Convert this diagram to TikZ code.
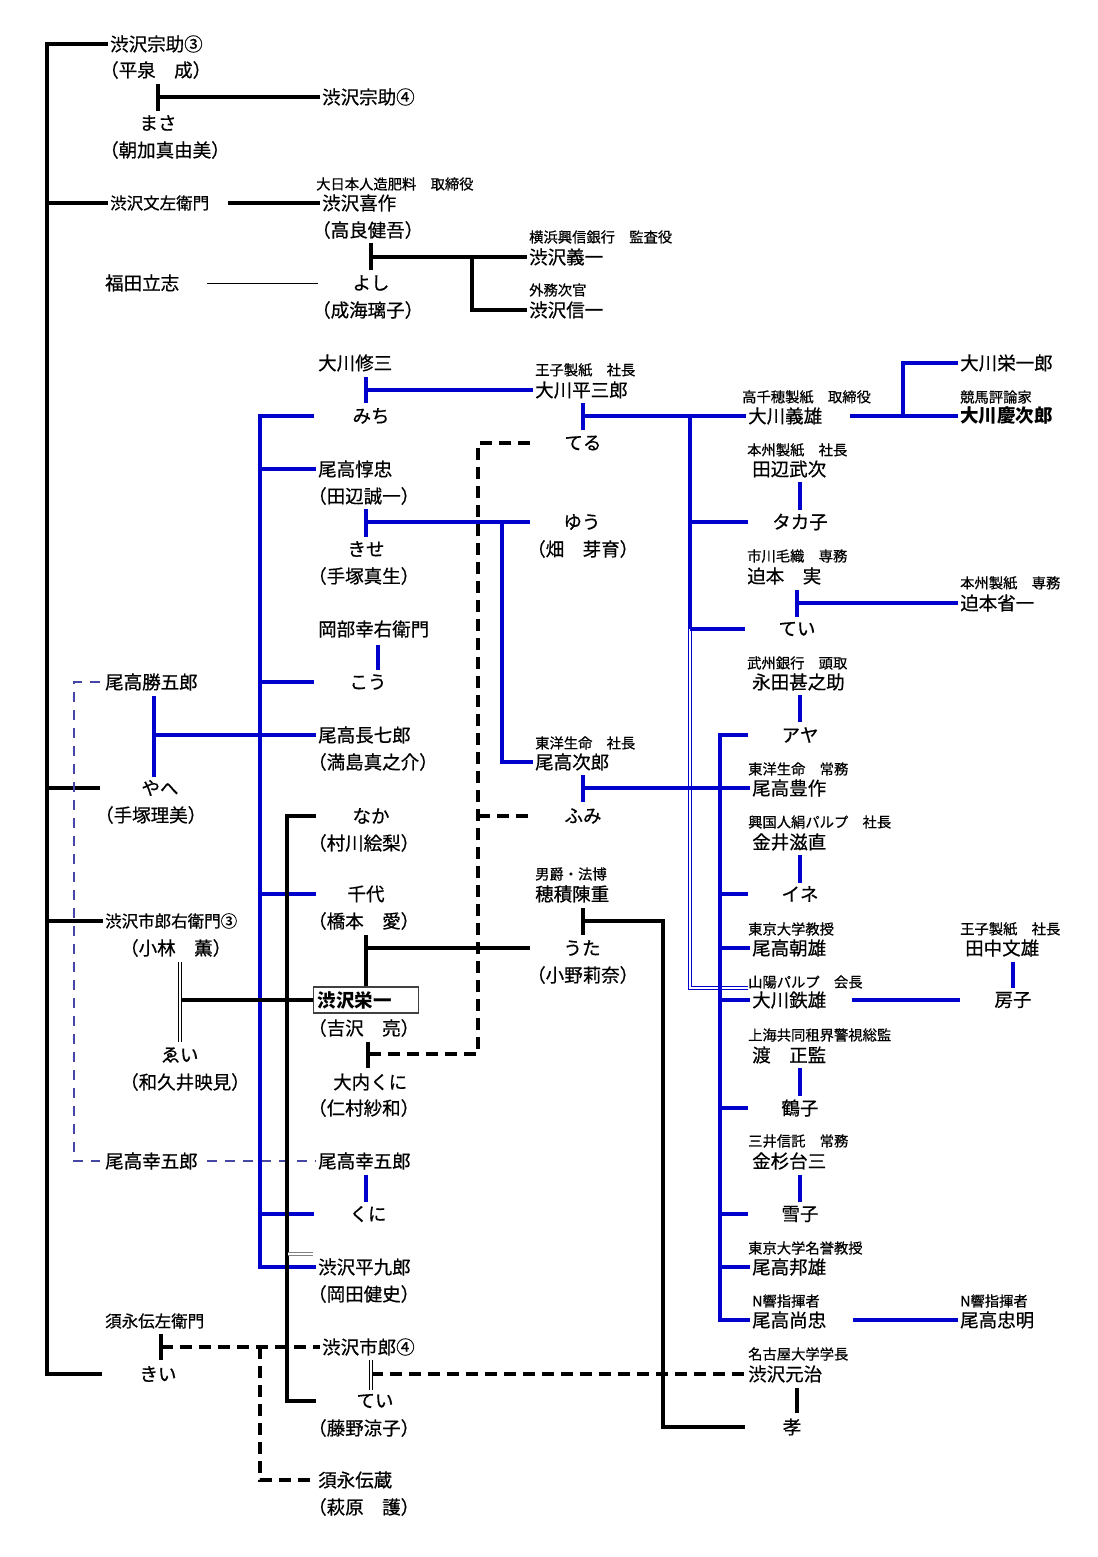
\documentclass[tikz,border=0pt]{standalone}
\usepackage{fontspec}
\setmainfont{Noto Sans CJK JP}[UprightFeatures={FakeBold=0.6}]
\definecolor{lb}{RGB}{0,0,205}
\definecolor{navyd}{RGB}{70,70,165}
\tikzset{
 nm/.style={font=\fontsize{18.5}{20}\selectfont, inner xsep=2pt, inner ysep=0pt},
 nw/.style={nm, anchor=west},
 ms/.style={font=\fontsize{16.5}{18}\selectfont, inner xsep=2pt, inner ysep=0pt, anchor=west},
 tt/.style={font=\fontsize{14.3}{16}\selectfont, inner xsep=2pt, inner ysep=0pt, anchor=west},
 blk/.style={line width=4pt, black},
 blu/.style={line width=4pt, lb},
 bdsh/.style={line width=4pt, black, dash pattern=on 12pt off 7pt},
 thn/.style={line width=1pt, black},
 bldsh/.style={line width=1.2pt, navyd, dash pattern=on 10pt off 8pt},
 dblk/.style={draw=black, double=white, line width=1pt, double distance=2.6pt},
 dgry/.style={draw=gray, double=white, line width=1pt, double distance=2.4pt},
 dblu/.style={draw=lb, double=white, line width=0.9pt, double distance=2.4pt},
}
\begin{document}
\begin{tikzpicture}[x=1pt,y=-1pt]
\fill[white] (0,0) rectangle (1097,1557);
\useasboundingbox (0,0) rectangle (1097,1557);

% ---------- nodes ----------
\node[nw] (soj3) at (108,44) {渋沢宗助③};
\node[nw] (hira) at (98,70) {（平泉　成）};
\node[nm] (masa) at (158,123) {まさ};
\node[nw] (asaka) at (98,150) {（朝加真由美）};
\node[nw] (soj4) at (320,97) {渋沢宗助④};
\node[ms] (bunz) at (108,203) {渋沢文左衛門};
\node[tt] (dainihon) at (314,184) {大日本人造肥料　取締役};
\node[nw] (kisaku) at (320,203) {渋沢喜作};
\node[nw] (takara) at (310,230) {（高良健吾）};
\node[nw] (fukuda) at (103,283) {福田立志};
\node[nm] (yoshi) at (371,283) {よし};
\node[nw] (narumi) at (310,310) {（成海璃子）};
\node[tt] (yokohama) at (527,237) {横浜興信銀行　監査役};
\node[nw] (giichi) at (527,257) {渋沢義一};
\node[tt] (gaimu) at (527,290) {外務次官};
\node[nw] (shinichi) at (527,310) {渋沢信一};

\node[nw] (shuzo) at (316,363) {大川修三};
\node[nm] (michi) at (371,416) {みち};
\node[tt] (oji1) at (533,370) {王子製紙　社長};
\node[nw] (heizaburo) at (533,390) {大川平三郎};
\node[nm] (teru) at (583,443) {てる};
\node[tt] (takachiho) at (740,397) {高千穂製紙　取締役};
\node[nw] (yoshio) at (746,416) {大川義雄};
\node[nw] (eiichiro) at (958,363) {大川栄一郎};
\node[tt] (keiba) at (958,397) {競馬評論家};
\node[nw] (keijiro) at (958,416) {\bfseries 大川慶次郎};
\node[nw] (junchu) at (316,469) {尾高惇忠};
\node[nw] (tanabe) at (306,496) {（田辺誠一）};
\node[nm] (kise) at (366,549) {きせ};
\node[nw] (tezuka) at (306,576) {（手塚真生）};
\node[nm] (yuu) at (582,522) {ゆう};
\node[nw] (hata) at (525,549) {（畑　芽育）};
\node[nw] (okabe) at (316,629) {岡部幸右衛門};
\node[nm] (kou) at (368,682) {こう};
\node[tt] (honshu1) at (745,450) {本州製紙　社長};
\node[nw] (takeji) at (750,469) {田辺武次};
\node[nm] (takako) at (800,522) {タカ子};
\node[tt] (ichikawa) at (745,556) {市川毛織　専務};
\node[nw] (minoru) at (745,576) {迫本　実};
\node[nm] (tei1) at (797,629) {てい};
\node[tt] (honshu2) at (958,583) {本州製紙　専務};
\node[nw] (shoichi) at (958,603) {迫本省一};
\node[tt] (bushu) at (745,663) {武州銀行　頭取};
\node[nw] (jinnosuke) at (750,682) {永田甚之助};
\node[nm] (aya) at (800,735) {アヤ};
\node[nw] (katsugoro) at (103,682) {尾高勝五郎};
\node[nm] (yae) at (160,788) {やへ};
\node[nw] (tezuka2) at (93,815) {（手塚理美）};
\node[nw] (chohichiro) at (316,735) {尾高長七郎};
\node[nw] (mitsushima) at (306,762) {（満島真之介）};
\node[tt] (toyo1) at (533,743) {東洋生命　社長};
\node[nw] (jiro) at (533,762) {尾高次郎};
\node[nm] (fumi) at (583,816) {ふみ};
\node[tt] (toyo2) at (746,769) {東洋生命　常務};
\node[nw] (hosaku) at (750,788) {尾高豊作};
\node[tt] (kokoku) at (746,822) {興国人絹パルプ　社長};
\node[nw] (shigenao) at (750,842) {金井滋直};
\node[nm] (ine) at (800,894) {イネ};
\node[nm] (naka) at (371,816) {なか};
\node[nw] (murakawa) at (306,843) {（村川絵梨）};
\node[nm] (chiyo) at (366,894) {千代};
\node[nw] (hashimoto) at (306,921) {（橋本　愛）};
\node[tt] (danshaku) at (533,874) {男爵・法博};
\node[nw] (hozumi) at (533,894) {穂積陳重};
\node[nm] (uta) at (582,948) {うた};
\node[nw] (ono) at (525,975) {（小野莉奈）};
\node[ms] (ichiroemon) at (103,921) {渋沢市郎右衛門③};
\node[nw] (kobayashi) at (118,948) {（小林　薫）};
\node[nw] (yoshizawa) at (306,1028) {（吉沢　亮）};
\node[nm] (ei) at (180,1055) {ゑい};
\node[nw] (wakui) at (118,1082) {（和久井映見）};
\node[nw] (ouchi) at (331,1082) {大内くに};
\node[nw] (nimura) at (306,1108) {（仁村紗和）};
\node[tt] (todai) at (746,929) {東京大学教授};
\node[nw] (tomoo) at (750,948) {尾高朝雄};
\node[tt] (oji2) at (958,929) {王子製紙　社長};
\node[nw] (fumio) at (963,948) {田中文雄};
\node[nm] (fusako) at (1013,1000) {房子};
\node[tt] (sanyo) at (746,982) {山陽パルプ　会長};
\node[nw] (tetsuo) at (750,1000) {大川鉄雄};
\node[tt] (shanghai) at (746,1035) {上海共同租界警視総監};
\node[nw] (masami) at (750,1055) {渡　正監};
\node[nm] (tsuruko) at (800,1108) {鶴子};
\node[tt] (mitsui) at (746,1141) {三井信託　常務};
\node[nw] (taizo) at (750,1161) {金杉台三};
\node[nm] (yukiko) at (800,1214) {雪子};
\node[tt] (todai2) at (746,1248) {東京大学名誉教授};
\node[nw] (kunio) at (750,1267) {尾高邦雄};
\node[tt] (nkyo1) at (750,1301) {N響指揮者};
\node[nw] (hisatada) at (750,1320) {尾高尚忠};
\node[tt] (nkyo2) at (958,1301) {N響指揮者};
\node[nw] (tadaaki) at (958,1320) {尾高忠明};
\node[nw] (kogoroL) at (103,1161) {尾高幸五郎};
\node[nw] (kogoroR) at (316,1161) {尾高幸五郎};
\node[nm] (kuni) at (368,1214) {くに};
\node[nw] (heikuro) at (316,1267) {渋沢平九郎};
\node[nw] (okada) at (306,1294) {（岡田健史）};
\node[ms] (sunaga) at (103,1321) {須永伝左衛門};
\node[nm] (kii) at (158,1374) {きい};
\node[nw] (ichiro4) at (320,1347) {渋沢市郎④};
\node[nm] (tei2) at (375,1401) {てい};
\node[nw] (fujino) at (306,1428) {（藤野涼子）};
\node[nw] (denzo) at (316,1480) {須永伝蔵};
\node[nw] (hagiwara) at (306,1507) {（萩原　護）};
\node[tt] (nagoya) at (746,1354) {名古屋大学学長};
\node[nw] (motoharu) at (746,1374) {渋沢元治};
\node[nm] (taka) at (792,1427) {孝};
\node[draw=darkgray, line width=1.2pt, fill=white, anchor=west, minimum height=26pt,
      inner xsep=4pt, inner ysep=0pt, text width=97pt, align=left,
      font=\fontsize{18.5}{20}\selectfont\bfseries] (eiichi) at (313,1000) {渋沢栄一};

% ---------- coordinates ----------
\coordinate (T0) at (47,44);
\coordinate (T1) at (47,1374);
\coordinate (T1e) at (102,1374);
\coordinate (Tyae) at (100,788);
\coordinate (M1) at (158,84); \coordinate (M2) at (158,111); \coordinate (MJ) at (158,97);
\coordinate (BZ) at (228,203);
\coordinate (F1) at (207,283); \coordinate (F2) at (318,283);
\coordinate (Y1) at (371,243); \coordinate (Y2) at (371,270); \coordinate (YJ) at (371,257); \coordinate (YB) at (472,257);
\coordinate (S1) at (366,377); \coordinate (S2) at (366,403); \coordinate (SJ) at (366,390);
\coordinate (H1) at (583,403); \coordinate (H2) at (583,430); \coordinate (HJ) at (583,416);
\coordinate (V1) at (690,416); \coordinate (V2) at (690,631); \coordinate (V2b) at (690,629);
\coordinate (V3) at (690,988); \coordinate (V4) at (748,988);
\coordinate (tkL) at (748,522); \coordinate (t1L) at (745,629);
\coordinate (YS) at (850,416); \coordinate (YSJ) at (903,416);
\coordinate (TB1) at (800,482); \coordinate (TB2) at (800,510);
\coordinate (SB1) at (797,590); \coordinate (SB2) at (797,617); \coordinate (SBJ) at (797,603);
\coordinate (NB1) at (800,695); \coordinate (NB2) at (800,722);
\coordinate (W0) at (748,735); \coordinate (W1) at (720,735); \coordinate (W2) at (720,1320);
\coordinate (ineL) at (748,894); \coordinate (tsuL) at (748,1108); \coordinate (yukL) at (748,1214);
\coordinate (J1) at (583,775); \coordinate (J2) at (583,802); \coordinate (JJ) at (583,788);
\coordinate (KN1) at (800,855); \coordinate (KN2) at (800,883);
\coordinate (TN1) at (1013,962); \coordinate (TN2) at (1013,988);
\coordinate (TT1) at (852,1000); \coordinate (TT2) at (960,1000);
\coordinate (WT1) at (800,1068); \coordinate (WT2) at (800,1096);
\coordinate (KS1) at (800,1175); \coordinate (KS2) at (800,1202);
\coordinate (HT) at (853,1320);
\coordinate (L0) at (314,416); \coordinate (L1) at (260,416); \coordinate (L2) at (260,1267);
\coordinate (kouL) at (314,682); \coordinate (chiL) at (316,894); \coordinate (kunL) at (314,1214);
\coordinate (KG1) at (154,696); \coordinate (KG2) at (154,777); \coordinate (KGJ) at (154,735);
\coordinate (JC1) at (366,509); \coordinate (JC2) at (366,537); \coordinate (JCJ) at (366,522);
\coordinate (JCE) at (530,522); \coordinate (JCB) at (502,522);
\coordinate (OK1) at (378,645); \coordinate (OK2) at (378,670);
\coordinate (KR1) at (366,1175); \coordinate (KR2) at (366,1202);
\coordinate (K0) at (316,816); \coordinate (K1) at (287,816); \coordinate (K2) at (287,1401); \coordinate (K3) at (316,1401);
\coordinate (CY1) at (366,935); \coordinate (CYJ) at (366,948); \coordinate (CYE) at (530,948);
\coordinate (HZ1) at (583,908); \coordinate (HZ2) at (583,935); \coordinate (HZJ) at (583,921);
\coordinate (HZC) at (663,921); \coordinate (HZD) at (663,1427); \coordinate (HZE) at (745,1427);
\coordinate (MH1) at (797,1388); \coordinate (MH2) at (797,1413);
\coordinate (E1) at (180,962); \coordinate (E2) at (180,1042); \coordinate (EJ) at (180,1000);
\coordinate (G1) at (288,1254); \coordinate (G2) at (313,1254);
\coordinate (I1) at (371,1360); \coordinate (I2) at (371,1390); \coordinate (IJ) at (371,1374);
\coordinate (DT) at (530,443); \coordinate (DC) at (478,443); \coordinate (DB) at (478,1054); \coordinate (DE) at (368,1054);
\coordinate (DF) at (530,816);
\coordinate (OU1) at (368,1042); \coordinate (OU2) at (368,1068);
\coordinate (KI1) at (161,1334); \coordinate (KI2) at (161,1360); \coordinate (KIJ) at (161,1347);
\coordinate (SN) at (260,1347);
\coordinate (BD0) at (100,682); \coordinate (BD1) at (74,682); \coordinate (BD2) at (74,1161);
\coordinate (BD3) at (100,1161); \coordinate (BD4) at (207,1161);

% ---------- black lines ----------
\draw[blk] (soj3.west) -- (T0) -- (T1) -- (T1e);
\draw[blk] (T0 |- bunz.west) -- (bunz.west);
\draw[blk] (T0 |- Tyae) -- (Tyae);
\draw[blk] (T0 |- ichiroemon.west) -- (ichiroemon.west);
\draw[blk] (M1) -- (M2);
\draw[blk] (MJ) -- (soj4.west);
\draw[blk] (BZ) -- (kisaku.west);
\draw[thn] (F1) -- (F2);
\draw[blk] (Y1) -- (Y2);
\draw[blk] (YJ) -- (giichi.west);
\draw[blk] (YB) |- (shinichi.west);

% ---------- blue dashed (thin) ----------
\draw[bldsh] (BD0) -- (BD1) -- (BD2) -- (BD3);
\draw[bldsh] (BD4) -- (kogoroR.west);

% ---------- blue lines ----------
\draw[blu] (S1) -- (S2);
\draw[blu] (SJ) -- (heizaburo.west);
\draw[blu] (H1) -- (H2);
\draw[blu] (HJ) -- (yoshio.west);
\draw[blu] (V1) -- (V2);
\draw[dblu] (V2b) -- (V3) -- (V4);
\draw[blu] (V1 |- tkL) -- (tkL);
\draw[blu] (V1 |- t1L) -- (t1L);
\draw[blu] (YS) -- (keijiro.west);
\draw[blu] (YSJ) |- (eiichiro.west);
\draw[blu] (TB1) -- (TB2);
\draw[blu] (SB1) -- (SB2);
\draw[blu] (SBJ) -- (shoichi.west);
\draw[blu] (NB1) -- (NB2);
\draw[blu] (W0) -- (W1) -- (W2) -- (hisatada.west);
\draw[blu] (W1 |- ineL) -- (ineL);
\draw[blu] (W1 |- tomoo.west) -- (tomoo.west);
\draw[blu] (W1 |- tetsuo.west) -- (tetsuo.west);
\draw[blu] (W1 |- tsuL) -- (tsuL);
\draw[blu] (W1 |- yukL) -- (yukL);
\draw[blu] (W1 |- kunio.west) -- (kunio.west);
\draw[blu] (J1) -- (J2);
\draw[blu] (JJ) -- (hosaku.west);
\draw[blu] (KN1) -- (KN2);
\draw[blu] (TN1) -- (TN2);
\draw[blu] (TT1) -- (TT2);
\draw[blu] (WT1) -- (WT2);
\draw[blu] (KS1) -- (KS2);
\draw[blu] (HT) -- (tadaaki.west);
\draw[blu] (L0) -- (L1) -- (L2) -- (heikuro.west);
\draw[blu] (L1 |- junchu.west) -- (junchu.west);
\draw[blu] (L1 |- kouL) -- (kouL);
\draw[blu] (L1 |- chiL) -- (chiL);
\draw[blu] (L1 |- kunL) -- (kunL);
\draw[blu] (KG1) -- (KG2);
\draw[blu] (KGJ) -- (chohichiro.west);
\draw[blu] (JC1) -- (JC2);
\draw[blu] (JCJ) -- (JCE);
\draw[blu] (JCB) |- (jiro.west);
\draw[blu] (OK1) -- (OK2);
\draw[blu] (KR1) -- (KR2);

% ---------- black second family ----------
\draw[blk] (K0) -- (K1) -- (K2) -- (K3);
\draw[blk] (CY1) -- (eiichi.north -| CY1);
\draw[blk] (CYJ) -- (CYE);
\draw[blk] (HZ1) -- (HZ2);
\draw[blk] (HZJ) -- (HZC) -- (HZD) -- (HZE);
\draw[blk] (MH1) -- (MH2);
\draw[blk] (EJ) -- (eiichi.west);
\draw[dblk] (E1) -- (E2);
\draw[dgry] (G1) -- (G2);
\draw[blk] (OU1) -- (OU2);
\draw[blk] (KI1) -- (KI2);

% ---------- black dashed ----------
\draw[bdsh] (DT) -- (DC) -- (DB) -- (DE);
\draw[bdsh] (DC |- DF) -- (DF);
\draw[bdsh] (KIJ) -- (ichiro4.west);
\draw[bdsh] (SN) |- (denzo.west);
\draw[bdsh] (IJ) -- (motoharu.west);
\draw[dblk] (I1) -- (I2);
\end{tikzpicture}
\end{document}
